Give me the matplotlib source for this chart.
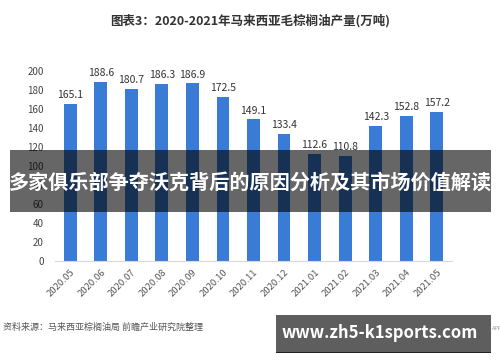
import matplotlib
matplotlib.use("Agg")
import matplotlib.pyplot as plt
from matplotlib.patches import Rectangle

plt.rcParams['font.family'] = ['Noto Sans CJK SC', 'DejaVu Sans']

# Data
months = ['2020.05', '2020.06', '2020.07', '2020.08', '2020.09', '2020.10', '2020.11',
          '2020.12', '2021.01', '2021.02', '2021.03', '2021.04', '2021.05']
output = [165.1, 188.6, 180.7, 186.3, 186.9, 172.5, 149.1,
          133.4, 112.6, 110.8, 142.3, 152.8, 157.2]
yticks = [0, 20, 40, 60, 80, 100, 120, 140, 160, 180, 200]

title = '图表3：2020-2021年马来西亚毛棕榈油产量(万吨)'
banner = '多家俱乐部争夺沃克背后的原因分析及其市场价值解读'
source = '资料来源：马来西亚棕榈油局 前瞻产业研究院整理'
site = 'www.zh5-k1sports.com'

fig = plt.figure(figsize=(5, 3.62), dpi=100, facecolor='white')
ax = fig.add_axes([0.11, 0.279, 0.794, 0.525])

x = range(len(months))
ax.bar(x, output, width=0.42, color='#3a7bd5', zorder=2)
for xi, v in zip(x, output):
    ax.text(xi, v + 4, f'{v:.1f}', ha='center', va='bottom', fontsize=7.5, color='#333333')

ax.set_xlim(-0.5, len(months) - 0.5)
ax.set_ylim(0, 200)
ax.set_yticks(yticks)
ax.set_xticks(list(x))
ax.set_xticklabels(months, rotation=45, ha='right', rotation_mode='anchor', fontsize=6.8, color='#555555')
ax.tick_params(axis='y', labelsize=7, colors='#444444', length=0, pad=8)
ax.tick_params(axis='x', length=0, pad=5)
for s in ['top', 'right', 'left']:
    ax.spines[s].set_visible(False)
ax.spines['bottom'].set_color('#d9d9d9')

# title and source
fig.text(0.5, 1 - 21 / 362, title, ha='center', va='center', fontsize=9, fontweight='bold', color='#333333')
fig.text(0.006, 1 - 327 / 362, source, ha='left', va='center', fontsize=6.5, color='#555555')

# dark banner overlay
fig.patches.append(Rectangle((10 / 500, 1 - 212 / 362), 481 / 500, 62 / 362,
                             transform=fig.transFigure, facecolor='black', alpha=0.6,
                             edgecolor='none', zorder=5))
fig.text(0.5, 1 - 182 / 362, banner, ha='center', va='center', fontsize=14.5,
         fontweight='bold', color='white', zorder=6)

# site box bottom right
fig.patches.append(Rectangle((276 / 500, 1 - 352 / 362), 215 / 500, 37 / 362,
                             transform=fig.transFigure, facecolor='#5e5e5e',
                             edgecolor='none', zorder=5))
fig.patches.append(Rectangle((276 / 500, 1 - 353 / 362), 215 / 500, 1.5 / 362,
                             transform=fig.transFigure, facecolor='#222222',
                             edgecolor='none', zorder=5))
fig.text(380 / 500, 1 - 333 / 362, site, ha='center', va='center', fontsize=12,
         fontweight='bold', color='white', zorder=6)
fig.text(491.5 / 500, 1 - 329 / 362, 'APP', ha='left', va='center', fontsize=4, color='#999999')

fig.savefig('out.png', dpi=100)
